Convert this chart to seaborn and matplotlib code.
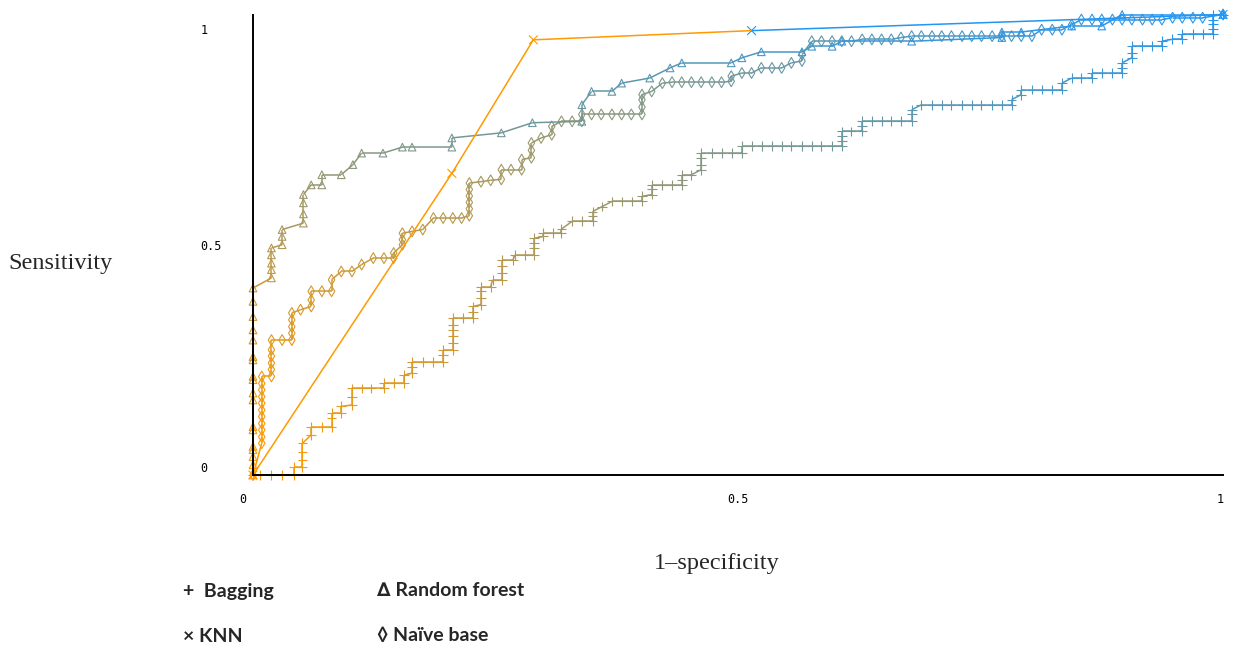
import numpy as np
import pandas as pd
import matplotlib
matplotlib.use("Agg")
import matplotlib.pyplot as plt
import seaborn as sns
from matplotlib.collections import LineCollection
from matplotlib.colors import LinearSegmentedColormap
from matplotlib.transforms import ScaledTranslation

# ROC points (1-specificity, sensitivity)
bag_fpr = [0, 0.007, 0.019, 0.030, 0.042, 0.042, 0.051, 0.051, 0.051, 0.051,
           0.060, 0.060, 0.071, 0.081, 0.081, 0.081, 0.091, 0.091, 0.102, 0.102,
           0.102, 0.112, 0.122, 0.135, 0.135, 0.145, 0.156, 0.156, 0.164, 0.164,
           0.164, 0.175, 0.186, 0.196, 0.196, 0.196, 0.206, 0.206, 0.206, 0.206,
           0.206, 0.206, 0.217, 0.227, 0.227, 0.227, 0.235, 0.235, 0.235, 0.235,
           0.245, 0.247, 0.257, 0.257, 0.257, 0.257, 0.268, 0.270, 0.280, 0.290,
           0.290, 0.290, 0.290, 0.299, 0.299, 0.309, 0.318, 0.318, 0.329, 0.339,
           0.350, 0.350, 0.350, 0.360, 0.370, 0.380, 0.391, 0.401, 0.401, 0.411,
           0.411, 0.411, 0.422, 0.432, 0.442, 0.442, 0.442, 0.452, 0.462, 0.462,
           0.462, 0.462, 0.473, 0.483, 0.494, 0.504, 0.504, 0.514, 0.525, 0.535,
           0.545, 0.555, 0.566, 0.576, 0.586, 0.597, 0.607, 0.607, 0.607, 0.607,
           0.617, 0.628, 0.628, 0.628, 0.638, 0.648, 0.658, 0.668, 0.679, 0.679,
           0.679, 0.689, 0.700, 0.710, 0.720, 0.731, 0.741, 0.751, 0.762, 0.772,
           0.782, 0.782, 0.792, 0.792, 0.803, 0.813, 0.824, 0.834, 0.834, 0.844,
           0.854, 0.865, 0.865, 0.875, 0.886, 0.896, 0.896, 0.896, 0.906, 0.906,
           0.906, 0.917, 0.927, 0.937, 0.937, 0.947, 0.958, 0.958, 0.969, 0.979,
           0.990, 0.990, 0.990, 0.990, 0.990, 1.0]
bag_tpr = [0, 0, 0, 0, 0, 0.017, 0.017, 0.033, 0.051, 0.069,
           0.087, 0.105, 0.105, 0.105, 0.123, 0.134, 0.134, 0.149, 0.152, 0.170,
           0.188, 0.188, 0.188, 0.188, 0.199, 0.199, 0.199, 0.217, 0.221, 0.235,
           0.246, 0.246, 0.246, 0.246, 0.261, 0.272, 0.272, 0.286, 0.301, 0.315,
           0.326, 0.341, 0.341, 0.341, 0.355, 0.366, 0.370, 0.384, 0.399, 0.409,
           0.409, 0.424, 0.424, 0.438, 0.453, 0.467, 0.467, 0.478, 0.478, 0.478,
           0.493, 0.504, 0.514, 0.518, 0.526, 0.526, 0.526, 0.534, 0.551, 0.551,
           0.551, 0.562, 0.572, 0.583, 0.594, 0.594, 0.594, 0.594, 0.605, 0.609,
           0.620, 0.630, 0.630, 0.630, 0.630, 0.641, 0.652, 0.652, 0.663, 0.674,
           0.688, 0.699, 0.699, 0.699, 0.699, 0.699, 0.714, 0.714, 0.714, 0.714,
           0.714, 0.714, 0.714, 0.714, 0.714, 0.714, 0.714, 0.725, 0.736, 0.746,
           0.746, 0.746, 0.757, 0.768, 0.768, 0.768, 0.768, 0.768, 0.768, 0.783,
           0.793, 0.804, 0.804, 0.804, 0.804, 0.804, 0.804, 0.804, 0.804, 0.804,
           0.804, 0.815, 0.826, 0.837, 0.837, 0.837, 0.837, 0.837, 0.851, 0.862,
           0.862, 0.862, 0.873, 0.873, 0.873, 0.873, 0.884, 0.895, 0.906, 0.917,
           0.931, 0.931, 0.931, 0.931, 0.942, 0.946, 0.946, 0.957, 0.957, 0.957,
           0.957, 0.968, 0.979, 0.989, 1.0, 1.0]

rf_fpr = [0, 0, 0, 0, 0, 0, 0, 0, 0, 0, 0, 0, 0, 0, 0, 0, 0, 0,
          0.019, 0.019, 0.019, 0.019, 0.019, 0.030, 0.030, 0.030, 0.052, 0.052,
          0.052, 0.052, 0.060, 0.071, 0.071, 0.091, 0.103, 0.112, 0.134, 0.154,
          0.164, 0.205, 0.205, 0.256, 0.288, 0.339, 0.339, 0.349, 0.370, 0.380,
          0.409, 0.430, 0.442, 0.493, 0.504, 0.524, 0.566, 0.576, 0.597, 0.607,
          0.679, 0.772, 0.772, 0.792, 0.844, 0.875, 0.896, 1.0]
rf_tpr = [0, 0.022, 0.040, 0.055, 0.062, 0.098, 0.105, 0.163, 0.178, 0.207,
          0.214, 0.250, 0.257, 0.293, 0.315, 0.344, 0.377, 0.406,
          0.428, 0.446, 0.460, 0.478, 0.493, 0.500, 0.518, 0.533, 0.547, 0.567,
          0.591, 0.609, 0.630, 0.630, 0.652, 0.652, 0.674, 0.699, 0.699, 0.712,
          0.712, 0.712, 0.732, 0.743, 0.765, 0.768, 0.804, 0.833, 0.833, 0.851,
          0.862, 0.884, 0.895, 0.895, 0.906, 0.919, 0.919, 0.931, 0.931, 0.942,
          0.942, 0.950, 0.962, 0.962, 0.975, 0.975, 1.0, 1.0]

knn_fpr = [0, 0.205, 0.289, 0.514, 1.0]
knn_tpr = [0, 0.655, 0.945, 0.965, 1.0]
knn_thr = [1.0, 1.0, 1.0, 0.0, 0.0]

nb_fpr = [0, 0.009, 0.009, 0.009, 0.009, 0.009, 0.009, 0.009, 0.009, 0.009,
          0.009, 0.009, 0.019, 0.019, 0.019, 0.019, 0.019, 0.019, 0.030, 0.040,
          0.040, 0.040, 0.040, 0.040, 0.049, 0.060, 0.060, 0.060, 0.071, 0.081,
          0.081, 0.091, 0.102, 0.112, 0.124, 0.135, 0.145, 0.145, 0.154, 0.154,
          0.154, 0.164, 0.175, 0.186, 0.196, 0.206, 0.215, 0.223, 0.223, 0.223,
          0.223, 0.223, 0.223, 0.235, 0.245, 0.256, 0.256, 0.266, 0.277, 0.277,
          0.287, 0.287, 0.287, 0.297, 0.308, 0.308, 0.318, 0.329, 0.339, 0.339,
          0.349, 0.359, 0.370, 0.380, 0.390, 0.401, 0.401, 0.401, 0.401, 0.411,
          0.422, 0.432, 0.442, 0.452, 0.462, 0.473, 0.483, 0.493, 0.493, 0.504,
          0.514, 0.524, 0.535, 0.545, 0.555, 0.566, 0.566, 0.576, 0.586, 0.597,
          0.607, 0.617, 0.628, 0.638, 0.648, 0.658, 0.668, 0.679, 0.689, 0.700,
          0.710, 0.720, 0.731, 0.741, 0.751, 0.762, 0.772, 0.782, 0.792, 0.803,
          0.813, 0.824, 0.834, 0.844, 0.854, 0.865, 0.875, 0.886, 0.896, 0.906,
          0.917, 0.927, 0.937, 0.948, 0.958, 0.969, 0.979, 1.0]
nb_tpr = [0, 0.069, 0.083, 0.098, 0.112, 0.127, 0.141, 0.156, 0.170, 0.185,
          0.199, 0.214, 0.214, 0.229, 0.243, 0.258, 0.272, 0.293, 0.293, 0.293,
          0.308, 0.322, 0.337, 0.352, 0.359, 0.366, 0.380, 0.399, 0.399, 0.399,
          0.424, 0.442, 0.442, 0.457, 0.471, 0.471, 0.471, 0.482, 0.500, 0.511,
          0.525, 0.529, 0.533, 0.558, 0.558, 0.558, 0.558, 0.563, 0.578, 0.592,
          0.606, 0.620, 0.634, 0.637, 0.640, 0.642, 0.663, 0.663, 0.663, 0.685,
          0.689, 0.705, 0.721, 0.732, 0.739, 0.757, 0.768, 0.768, 0.768, 0.783,
          0.783, 0.783, 0.783, 0.783, 0.783, 0.783, 0.799, 0.815, 0.826, 0.833,
          0.851, 0.853, 0.853, 0.853, 0.853, 0.853, 0.853, 0.855, 0.866, 0.873,
          0.873, 0.884, 0.884, 0.884, 0.895, 0.899, 0.913, 0.942, 0.942, 0.942,
          0.942, 0.942, 0.946, 0.946, 0.946, 0.946, 0.950, 0.953, 0.953, 0.953,
          0.953, 0.953, 0.953, 0.953, 0.953, 0.953, 0.953, 0.953, 0.953, 0.953,
          0.967, 0.967, 0.967, 0.978, 0.989, 0.989, 0.989, 0.989, 0.989, 0.989,
          0.989, 0.989, 0.989, 0.993, 0.993, 0.993, 0.993, 1.0]

legend_rows = [["+  Bagging", "\u2206 Random forest"],
               ["\u00d7 KNN", "\u25ca Na\u00efve base"]]
tick_vals = [0, 0.5, 1]
tick_text = ["0", "0.5", "1"]


def roc_frame(fpr, tpr, thr=None):
    n = len(fpr)
    if thr is None:
        # colour by threshold rank: first point = highest threshold
        thr = 1 - np.arange(n) / (n - 1)
    return pd.DataFrame({"fpr": fpr, "tpr": tpr, "thr": thr})


cmap = LinearSegmentedColormap.from_list("thr", ["#2196F3", "#FF9A00"])
norm = plt.Normalize(0, 1)


def draw_curve(ax, df, marker, size, hollow=False):
    pts = df[["fpr", "tpr"]].to_numpy()
    segs = np.stack([pts[:-1], pts[1:]], axis=1)
    seg_cols = cmap(norm(df["thr"].to_numpy()[:-1]))
    ax.add_collection(LineCollection(segs, colors=seg_cols, linewidths=1.1,
                                     clip_on=False))
    sns.scatterplot(data=df, x="fpr", y="tpr", hue="thr", palette=cmap,
                    hue_norm=norm, marker=marker, s=size, linewidth=0.8,
                    legend=False, ax=ax, clip_on=False)
    coll = ax.collections[-1]
    coll.set_edgecolors(coll.get_facecolors())
    if hollow:
        coll.set_facecolors("none")


sns.set_style("white")
plt.rcParams["font.family"] = ["DejaVu Sans"]

fig = plt.figure(figsize=(12.33, 6.51), dpi=100)
ax = fig.add_axes([253 / 1233, 176 / 651, 970 / 1233, 460.5 / 651])

draw_curve(ax, roc_frame(bag_fpr, bag_tpr), "+", 50)
draw_curve(ax, roc_frame(nb_fpr, nb_tpr), "d", 30, hollow=True)
draw_curve(ax, roc_frame(rf_fpr, rf_tpr), "^", 30, hollow=True)
draw_curve(ax, roc_frame(knn_fpr, knn_tpr, knn_thr), "x", 40)

ax.set_xlim(0, 1)
ax.set_ylim(0, 1)
for s in ["top", "right"]:
    ax.spines[s].set_visible(False)
for s in ["left", "bottom"]:
    ax.spines[s].set_color("black")
    ax.spines[s].set_linewidth(1.4)

ax.set_xticks(tick_vals)
ax.set_xticklabels(tick_text, family="DejaVu Sans Mono", fontsize=8.5)
ax.set_yticks(tick_vals)
ax.set_yticklabels(tick_text, family="DejaVu Sans Mono", fontsize=8.5)
ax.tick_params(axis="x", length=4, width=1, pad=9, colors="black")
ax.tick_params(axis="y", length=6, width=1, pad=32, colors="black")
for lab in ax.get_yticklabels():
    lab.set_horizontalalignment("left")

# small label offsets (labels sit inside the axis ends)
ylab = ax.get_yticklabels()
ylab[0].set_transform(ylab[0].get_transform() + ScaledTranslation(0, 0.08, fig.dpi_scale_trans))
ylab[2].set_transform(ylab[2].get_transform() + ScaledTranslation(0, -0.15, fig.dpi_scale_trans))
xlab = ax.get_xticklabels()
xlab[0].set_transform(xlab[0].get_transform() + ScaledTranslation(-0.10, 0, fig.dpi_scale_trans))
xlab[2].set_transform(xlab[2].get_transform() + ScaledTranslation(-0.03, 0, fig.dpi_scale_trans))

ax.set_xlabel("1\u2013specificity", family="Liberation Serif", fontsize=17.5,
              va="center")
ax.set_ylabel("Sensitivity", family="Liberation Serif", fontsize=17.5,
              rotation=0, ha="center", va="center")
ax.xaxis.set_label_coords((717 - 253) / 970, (475 - 563) / 460.5)
ax.yaxis.set_label_coords((61 - 253) / 970, (475 - 264) / 460.5)

# text legend under the plot
for r, row in enumerate(legend_rows):
    for c, txt in enumerate(row):
        fig.text((183 + 194 * c) / 1233, 1 - (591 + 45 * r) / 651, txt,
                 family=["Lato", "DejaVu Sans"], fontweight="bold",
                 fontsize=14, ha="left", va="center")

fig.savefig("out.png", dpi=100)
